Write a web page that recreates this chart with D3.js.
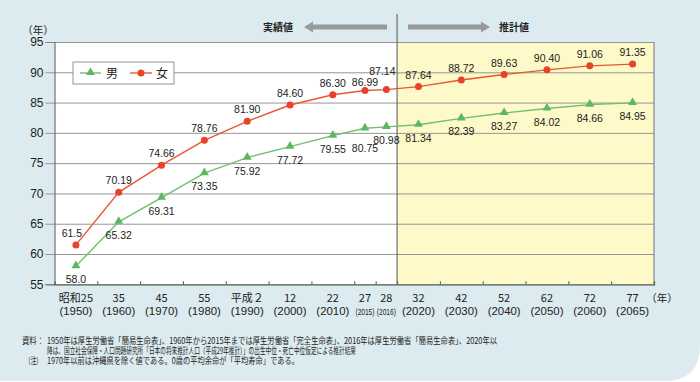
<!DOCTYPE html>
<html><head><meta charset="utf-8">
<script src="https://cdn.jsdelivr.net/npm/d3@7/dist/d3.min.js"></script>
<style>
html,body{margin:0;padding:0;background:#fff;}
svg{display:block;}
text{font-family:"Liberation Sans",Arial,sans-serif;fill:#222;}
.jp{font-family:"Noto Sans CJK JP","Noto Sans",sans-serif;}
</style></head>
<body>
<script>
const categories = ["1950","1960","1970","1980","1990","2000","2010","2015","2016","2020","2030","2040","2050","2060","2065"];
const eraLabels = ["昭和25","35","45","55","平成２","12","22","27","28","32","42","52","62","72","77"];
const yearLabels = ["(1950)","(1960)","(1970)","(1980)","(1990)","(2000)","(2010)","(2015)","(2016)","(2020)","(2030)","(2040)","(2050)","(2060)","(2065)"];
const male   = [58.0, 65.32, 69.31, 73.35, 75.92, 77.72, 79.55, 80.75, 80.98, 81.34, 82.39, 83.27, 84.02, 84.66, 84.95];
const female = [61.5, 70.19, 74.66, 78.76, 81.90, 84.60, 86.30, 86.99, 87.14, 87.64, 88.72, 89.63, 90.40, 91.06, 91.35];
const maleLabels = ["58.0","65.32","69.31","73.35","75.92","77.72","79.55","80.75","80.98","81.34","82.39","83.27","84.02","84.66","84.95"];
const femaleLabels = ["61.5","70.19","74.66","78.76","81.90","84.60","86.30","86.99","87.14","87.64","88.72","89.63","90.40","91.06","91.35"];
const yTicks = [55,60,65,70,75,80,85,90,95];
const seriesNames = ["男","女"];
const projectionStart = "2020";
const noteLines = [
  "1950年は厚生労働省「簡易生命表」、1960年から2015年までは厚生労働省「完全生命表」、2016年は厚生労働省「簡易生命表」、2020年以",
  "降は、国立社会保障・人口問題研究所「日本の将来推計人口（平成29年推計）」の出生中位・死亡中位仮定による推計結果",
  "1970年以前は沖縄県を除く値である。0歳の平均余命が「平均寿命」である。"
];

const W = 700, H = 382;
const L = 54.5, R = 654, T = 42, B = 284.3;
const svg = d3.select("body").append("svg").attr("width", W).attr("height", H);

// background panel with rounded bottom-right corner
const rad = 36, bb = 381;
svg.append("path")
  .attr("d", `M0,0 H${W} V${bb-rad} Q${W},${bb} ${W-rad},${bb} H0 Z`)
  .attr("fill", "#dcebef");

// x positions: narrow slots for 2015/2016
const narrow = new Set(["2015","2016"]);
const units = categories.map(c => narrow.has(c) ? 0.5 : 1);
const edges = [0]; units.forEach(u => edges.push(edges[edges.length-1] + u));
const xs = d3.scaleLinear().domain([0, edges[edges.length-1]]).range([L, R]);
const xc = i => xs(edges[i] + units[i]/2);
const y = d3.scaleLinear().domain([55,95]).range([B, T]);

const pi = categories.indexOf(projectionStart);
const xDiv = xs(edges[pi]);

// plot backgrounds
svg.append("rect").attr("x", L).attr("y", T).attr("width", xDiv-L).attr("height", B-T).attr("fill", "#fff");
svg.append("rect").attr("x", xDiv).attr("y", T).attr("width", R-xDiv).attr("height", B-T).attr("fill", "#fef9c9");

// gridlines
const grid = svg.append("g").attr("transform", `translate(${L},0)`)
  .call(d3.axisLeft(y).tickValues(yTicks.filter(v => v>55)).tickSize(-(R-L)).tickFormat(""));
grid.select(".domain").remove();
grid.selectAll("line").attr("stroke", "#8a8a8a").attr("stroke-width", 0.9);

// right border
svg.append("line").attr("x1", R).attr("x2", R).attr("y1", T).attr("y2", B).attr("stroke", "#777").attr("stroke-width", 1);

// y axis
const ya = svg.append("g").attr("transform", `translate(${L},0)`)
  .call(d3.axisLeft(y).tickValues(yTicks).tickSize(9).tickPadding(2).tickFormat(d3.format("d")));
ya.select(".domain").attr("stroke", "#555").attr("stroke-width", 1);
ya.selectAll("line").attr("stroke", "#8a8a8a").attr("stroke-width", 0.9);
ya.selectAll("text").attr("font-size", 12).attr("font-family", "Liberation Sans, Arial, sans-serif").attr("fill", "#222");
svg.append("text").attr("class", "jp").attr("x", 38).attr("y", 34).attr("text-anchor", "middle").attr("font-size", 10.5).text("（年）");

// x axis: inner ticks at boundaries
const xa = svg.append("g").attr("transform", `translate(0,${B})`)
  .call(d3.axisBottom(xs).tickValues(edges.slice(1, -1)).tickSize(-3).tickFormat(""));
xa.select(".domain").attr("stroke", "#555").attr("stroke-width", 1.2);
xa.selectAll("line").attr("stroke", "#555");

// x labels
categories.forEach((c, i) => {
  const cx = xc(i);
  svg.append("text").attr("class", "jp").attr("x", cx).attr("y", 302).attr("text-anchor", "middle")
    .attr("font-size", 11).text(eraLabels[i]);
  const t = svg.append("text").attr("x", cx).attr("y", 315).attr("text-anchor", "middle")
    .attr("font-size", narrow.has(c) ? 8.5 : 11).text(yearLabels[i]);
  if (narrow.has(c)) t.attr("textLength", 19).attr("lengthAdjust", "spacingAndGlyphs");
  else t.attr("textLength", 33).attr("lengthAdjust", "spacingAndGlyphs");
});
svg.append("text").attr("class", "jp").attr("x", 662).attr("y", 302).attr("text-anchor", "middle").attr("font-size", 10.5).text("（年）");

// divider line
svg.append("line").attr("x1", xDiv).attr("x2", xDiv).attr("y1", 14).attr("y2", B).attr("stroke", "#555").attr("stroke-width", 1);

// arrows and headings
const arrowCol = "#9a9a9a";
function arrow(x1, x2, yy) {
  const dir = Math.sign(x2 - x1), hl = 9, sh = 2.6, hh = 5.5;
  const xb = x2 - dir*hl;
  svg.append("path").attr("d",
    `M${x1},${yy-sh} L${xb},${yy-sh} L${xb},${yy-hh} L${x2},${yy} L${xb},${yy+hh} L${xb},${yy+sh} L${x1},${yy+sh} Z`)
    .attr("fill", arrowCol);
}
arrow(387, 304, 27);
arrow(408, 490, 27);
svg.append("text").attr("class", "jp").attr("x", 293).attr("y", 31).attr("text-anchor", "end").attr("font-size", 10).attr("font-weight", "bold").text("実績値");
svg.append("text").attr("class", "jp").attr("x", 499).attr("y", 31).attr("text-anchor", "start").attr("font-size", 10).attr("font-weight", "bold").text("推計値");

// lines
const maleCol = "#6fbf6d", maleMark = "#5cb85e";
const femCol = "#ea5634", femMark = "#e8432a";
const line = d3.line().x((d, i) => xc(i)).y(d => y(d));
svg.append("path").datum(male).attr("d", line).attr("fill", "none").attr("stroke", maleCol).attr("stroke-width", 1.4);
svg.append("path").datum(female).attr("d", line).attr("fill", "none").attr("stroke", femCol).attr("stroke-width", 1.4);

const tri = d3.symbol().type(d3.symbolTriangle).size(34);
svg.append("g").selectAll("path").data(male).join("path")
  .attr("d", tri).attr("transform", (d, i) => `translate(${xc(i)},${y(d)-0.5})`).attr("fill", maleMark);
svg.append("g").selectAll("circle").data(female).join("circle")
  .attr("cx", (d, i) => xc(i)).attr("cy", d => y(d)).attr("r", 3.5).attr("fill", femMark);

// data labels
const mOff = {"2015": 20};
const fOff = {"2015": -9, "2016": -19};
const fDx = {"1950": -4, "2016": -4};
male.forEach((v, i) => {
  const c = categories[i];
  svg.append("text").attr("x", xc(i)).attr("y", y(v) + (mOff[c] ?? 13) + 4).attr("text-anchor", "middle")
    .attr("font-size", 10.5).attr("fill", "#333").text(maleLabels[i]);
});
female.forEach((v, i) => {
  const c = categories[i];
  svg.append("text").attr("x", xc(i) + (fDx[c] ?? 0)).attr("y", y(v) + (fOff[c] ?? -12) + 4).attr("text-anchor", "middle")
    .attr("font-size", 10.5).attr("fill", "#333").text(femaleLabels[i]);
});

// legend
const lg = svg.append("g");
lg.append("rect").attr("x", 73).attr("y", 62).attr("width", 101).attr("height", 22)
  .attr("fill", "#fff").attr("stroke", "#888").attr("stroke-width", 0.9);
const ly = 73;
lg.append("line").attr("x1", 80).attr("x2", 101).attr("y1", ly).attr("y2", ly).attr("stroke", maleCol).attr("stroke-width", 1.4);
lg.append("path").attr("d", tri).attr("transform", `translate(90.5,${ly-0.5})`).attr("fill", maleMark);
lg.append("text").attr("class", "jp").attr("x", 106).attr("y", ly + 4.5).attr("font-size", 12).text(seriesNames[0]);
lg.append("line").attr("x1", 130).attr("x2", 152).attr("y1", ly).attr("y2", ly).attr("stroke", femCol).attr("stroke-width", 1.4);
lg.append("circle").attr("cx", 141).attr("cy", ly).attr("r", 3.5).attr("fill", femMark);
lg.append("text").attr("class", "jp").attr("x", 156).attr("y", ly + 4.5).attr("font-size", 12).text(seriesNames[1]);

// notes
const nf = 8.6;
svg.append("text").attr("class", "jp").attr("x", 22).attr("y", 344).attr("font-size", nf)
  .attr("textLength", 22).attr("lengthAdjust", "spacingAndGlyphs").text("資料：");
svg.append("text").attr("class", "jp").attr("x", 47).attr("y", 344).attr("font-size", nf)
  .attr("textLength", 450).attr("lengthAdjust", "spacingAndGlyphs").text(noteLines[0]);
svg.append("text").attr("class", "jp").attr("x", 47).attr("y", 354).attr("font-size", nf)
  .attr("textLength", 309).attr("lengthAdjust", "spacingAndGlyphs").text(noteLines[1]);
svg.append("text").attr("class", "jp").attr("x", 25).attr("y", 364).attr("font-size", nf)
  .attr("textLength", 17).attr("lengthAdjust", "spacingAndGlyphs").text("（注）");
svg.append("text").attr("class", "jp").attr("x", 47).attr("y", 364).attr("font-size", nf)
  .attr("textLength", 252).attr("lengthAdjust", "spacingAndGlyphs").text(noteLines[2]);
</script>
</body></html>
